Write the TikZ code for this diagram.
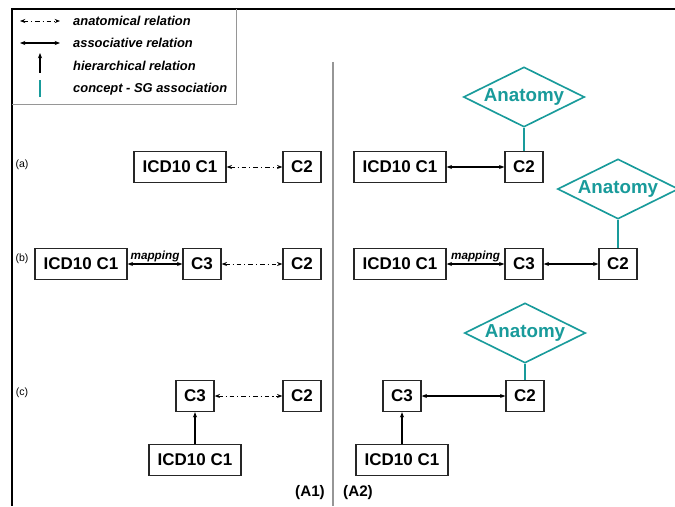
\documentclass[tikz,border=0pt]{standalone}
\usepackage{fontspec}
\setmainfont{Liberation Sans}
\usetikzlibrary{positioning, arrows.meta, shapes.geometric}
\definecolor{sgteal}{RGB}{25,155,155}
\definecolor{rulegray}{RGB}{150,150,150}

\begin{document}
\begin{tikzpicture}[x=0.03cm, y=-0.03cm,
    concept/.style={rectangle, draw=black!85, line width=1.2pt, fill=white, minimum height=0.93cm, minimum width=1.14cm, inner sep=2pt, font=\fontsize{14.5}{16}\selectfont\bfseries},
    wide/.style={minimum width=2.76cm},
    sgdiamond/.style={diamond, aspect=2, draw=sgteal, line width=1.4pt, fill=white, minimum width=3.63cm, minimum height=1.8cm, inner sep=0pt, text=sgteal, font=\fontsize{16}{18}\selectfont\bfseries},
    anat/.style={{Stealth[length=4.5pt,width=3.5pt]}-{Stealth[length=4.5pt,width=3.5pt]}, line width=0.8pt, dash pattern=on 4pt off 2.5pt on 1pt off 2.5pt},
    assoc/.style={{Stealth[length=4.5pt,width=3.5pt]}-{Stealth[length=4.5pt,width=3.5pt]}, line width=0.9pt},
    hier/.style={-{Stealth[length=4.5pt,width=3.5pt]}, line width=0.9pt},
    sglink/.style={draw=sgteal, line width=1.4pt},
    rowlabel/.style={font=\fontsize{9}{10}\selectfont},
    legtext/.style={anchor=west, inner sep=0pt, font=\fontsize{11}{13}\selectfont\bfseries\itshape},
    maplabel/.style={above, inner sep=1.5pt, font=\fontsize{10}{12}\selectfont\bfseries\itshape},
    sidelabel/.style={font=\fontsize{13}{15}\selectfont\bfseries}
]

\useasboundingbox (0,0) rectangle (675,506);

% frame, legend box and separator
\draw[line width=1.7pt] (675,9) -- (12,9) -- (12,506);
\draw[rulegray, line width=0.8pt] (12,104) -- (236,104) -- (236,9);
\draw[rulegray, line width=1.2pt] (333,62) -- (333,506);

% legend
\coordinate (anatL) at (20,21);
\coordinate (anatR) at (60,21);
\coordinate (assocL) at (20,43);
\coordinate (assocR) at (60,43);
\coordinate (hierB) at (40,73);
\coordinate (hierT) at (40,53);
\coordinate (sgB) at (40,97);
\coordinate (sgT) at (40,80);
\draw[anat] (anatL) -- (anatR);
\draw[assoc] (assocL) -- (assocR);
\draw[hier] (hierB) -- (hierT);
\draw[sglink] (sgB) -- (sgT);
\node[legtext] (anattext) at (73,21) {anatomical relation};
\node[legtext] (assoctext) at (73,43) {associative relation};
\node[legtext] (hiertext) at (73,66) {hierarchical relation};
\node[legtext] (sgtext) at (73,89) {concept - SG association};

% row labels
\node[rowlabel] (rowa) at (22,165) {(a)};
\node[rowlabel] (rowb) at (22,259) {(b)};
\node[rowlabel] (rowc) at (22,393) {(c)};

% (A1)
\node[concept, wide] (icdLa) at (180,167) {ICD10 C1};
\node[concept] (c2La) at (302,167) {C2};
\node[concept, wide] (icdLb) at (81,264) {ICD10 C1};
\node[concept] (c3Lb) at (202,264) {C3};
\node[concept] (c2Lb) at (302,264) {C2};
\node[concept] (c3Lc) at (195,396) {C3};
\node[concept] (c2Lc) at (302,396) {C2};
\node[concept, wide] (icdLc) at (195,460) {ICD10 C1};

\draw[anat] (icdLa) -- (c2La);
\draw[assoc] (icdLb) -- node[maplabel] {mapping} (c3Lb);
\draw[anat] (c3Lb) -- (c2Lb);
\draw[anat] (c3Lc) -- (c2Lc);
\draw[hier] (icdLc) -- (c3Lc);

% (A2)
\node[sgdiamond] (anaRa) at (524,97) {Anatomy};
\node[concept, wide] (icdRa) at (400,167) {ICD10 C1};
\node[concept] (c2Ra) at (524,167) {C2};
\node[sgdiamond] (anaRb) at (618,189) {Anatomy};
\node[concept, wide] (icdRb) at (400,264) {ICD10 C1};
\node[concept] (c3Rb) at (524,264) {C3};
\node[concept] (c2Rb) at (618,264) {C2};
\node[sgdiamond] (anaRc) at (525,333) {Anatomy};
\node[concept] (c3Rc) at (402,396) {C3};
\node[concept] (c2Rc) at (525,396) {C2};
\node[concept, wide] (icdRc) at (402,460) {ICD10 C1};

\draw[sglink] (anaRa) -- (c2Ra);
\draw[assoc] (icdRa) -- (c2Ra);
\draw[sglink] (anaRb) -- (c2Rb);
\draw[assoc] (icdRb) -- node[maplabel] {mapping} (c3Rb);
\draw[assoc] (c3Rb) -- (c2Rb);
\draw[sglink] (anaRc) -- (c2Rc);
\draw[assoc] (c3Rc) -- (c2Rc);
\draw[hier] (icdRc) -- (c3Rc);

% side labels
\node[sidelabel] (sideA1) at (310,493) {(A1)};
\node[sidelabel] (sideA2) at (358,493) {(A2)};

\end{tikzpicture}
\end{document}
